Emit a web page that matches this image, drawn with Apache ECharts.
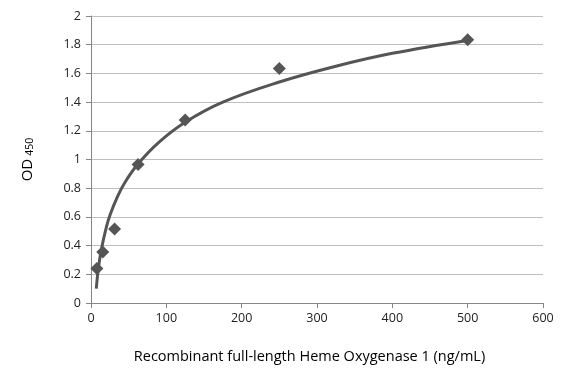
<!DOCTYPE html>
<html><head><meta charset="utf-8">
<script src="https://cdn.jsdelivr.net/npm/echarts@6/dist/echarts.min.js"></script>
<style>html,body{margin:0;padding:0;background:#fff}#c{width:582px;height:378px}</style>
</head><body><div id="c"></div>
<script>
// Measured standards (concentration ng/mL, OD450)
var concentrations = [7.8, 15.6, 31.25, 62.5, 125, 250, 500];
var odValues = [0.24, 0.355, 0.515, 0.965, 1.275, 1.635, 1.835];
// Fitted curve
var curveX = [7, 10, 14, 20, 25, 35, 45, 62.5, 90, 125, 175, 250, 325, 400, 500];
var curveY = [0.10, 0.25, 0.38, 0.52, 0.61, 0.74, 0.84, 0.97, 1.12, 1.26, 1.40, 1.54, 1.65, 1.74, 1.83];
var xTicks = [0, 100, 200, 300, 400, 500, 600];
var yTicks = [0, 0.2, 0.4, 0.6, 0.8, 1, 1.2, 1.4, 1.6, 1.8, 2];

var pts = concentrations.map(function(x, i){ return [x, odValues[i]]; });
var curve = curveX.map(function(x, i){ return [x, curveY[i]]; });
var font = "'Open Sans', 'Liberation Sans', sans-serif";

var chart = echarts.init(document.getElementById('c'), null, {renderer: 'canvas'});
chart.setOption({
  animation: false,
  backgroundColor: '#fff',
  grid: {left: 91, right: 39, top: 16, bottom: 75, containLabel: false},
  xAxis: {
    type: 'value', min: xTicks[0], max: xTicks[xTicks.length-1], interval: 100,
    name: 'Recombinant full-length Heme Oxygenase 1 (ng/mL)',
    nameLocation: 'middle', nameGap: 46,
    nameTextStyle: {fontFamily: font, fontSize: 14.5, color: '#000', padding: [0, 15, 0, 0]},
    axisLine: {show: true, lineStyle: {color: '#868686', width: 1}},
    axisTick: {show: true, length: 5, inside: false, lineStyle: {color: '#868686'}},
    axisLabel: {fontFamily: font, fontSize: 12.5, color: '#222', margin: 9},
    splitLine: {show: false}
  },
  yAxis: {
    type: 'value', min: yTicks[0], max: yTicks[yTicks.length-1], interval: 0.2,
    name: '{a|OD} {b|450}',
    nameLocation: 'middle', nameGap: 55, nameRotate: 90,
    nameTextStyle: {fontFamily: font, color: '#000',
      rich: {a: {fontFamily: font, fontSize: 15, color: '#000'},
             b: {fontFamily: font, fontSize: 10.5, color: '#000', padding: [6, 0, 0, 0]}}},
    axisLine: {show: true, lineStyle: {color: '#868686', width: 1}},
    axisTick: {show: true, length: 5, inside: false, lineStyle: {color: '#868686'}},
    axisLabel: {fontFamily: font, fontSize: 12.5, color: '#222', margin: 10,
      formatter: function(v){ return String(Math.round(v*10)/10); }},
    splitLine: {show: true, lineStyle: {color: '#bfbfbf', width: 1}}
  },
  series: [
    {type: 'line', data: curve, smooth: 0.4, showSymbol: false, symbol: 'none',
     lineStyle: {color: '#555555', width: 3}, z: 2},
    {type: 'scatter', data: pts, symbol: 'diamond', symbolSize: 13,
     itemStyle: {color: '#555555', opacity: 1}, z: 3}
  ]
});
</script></body></html>
